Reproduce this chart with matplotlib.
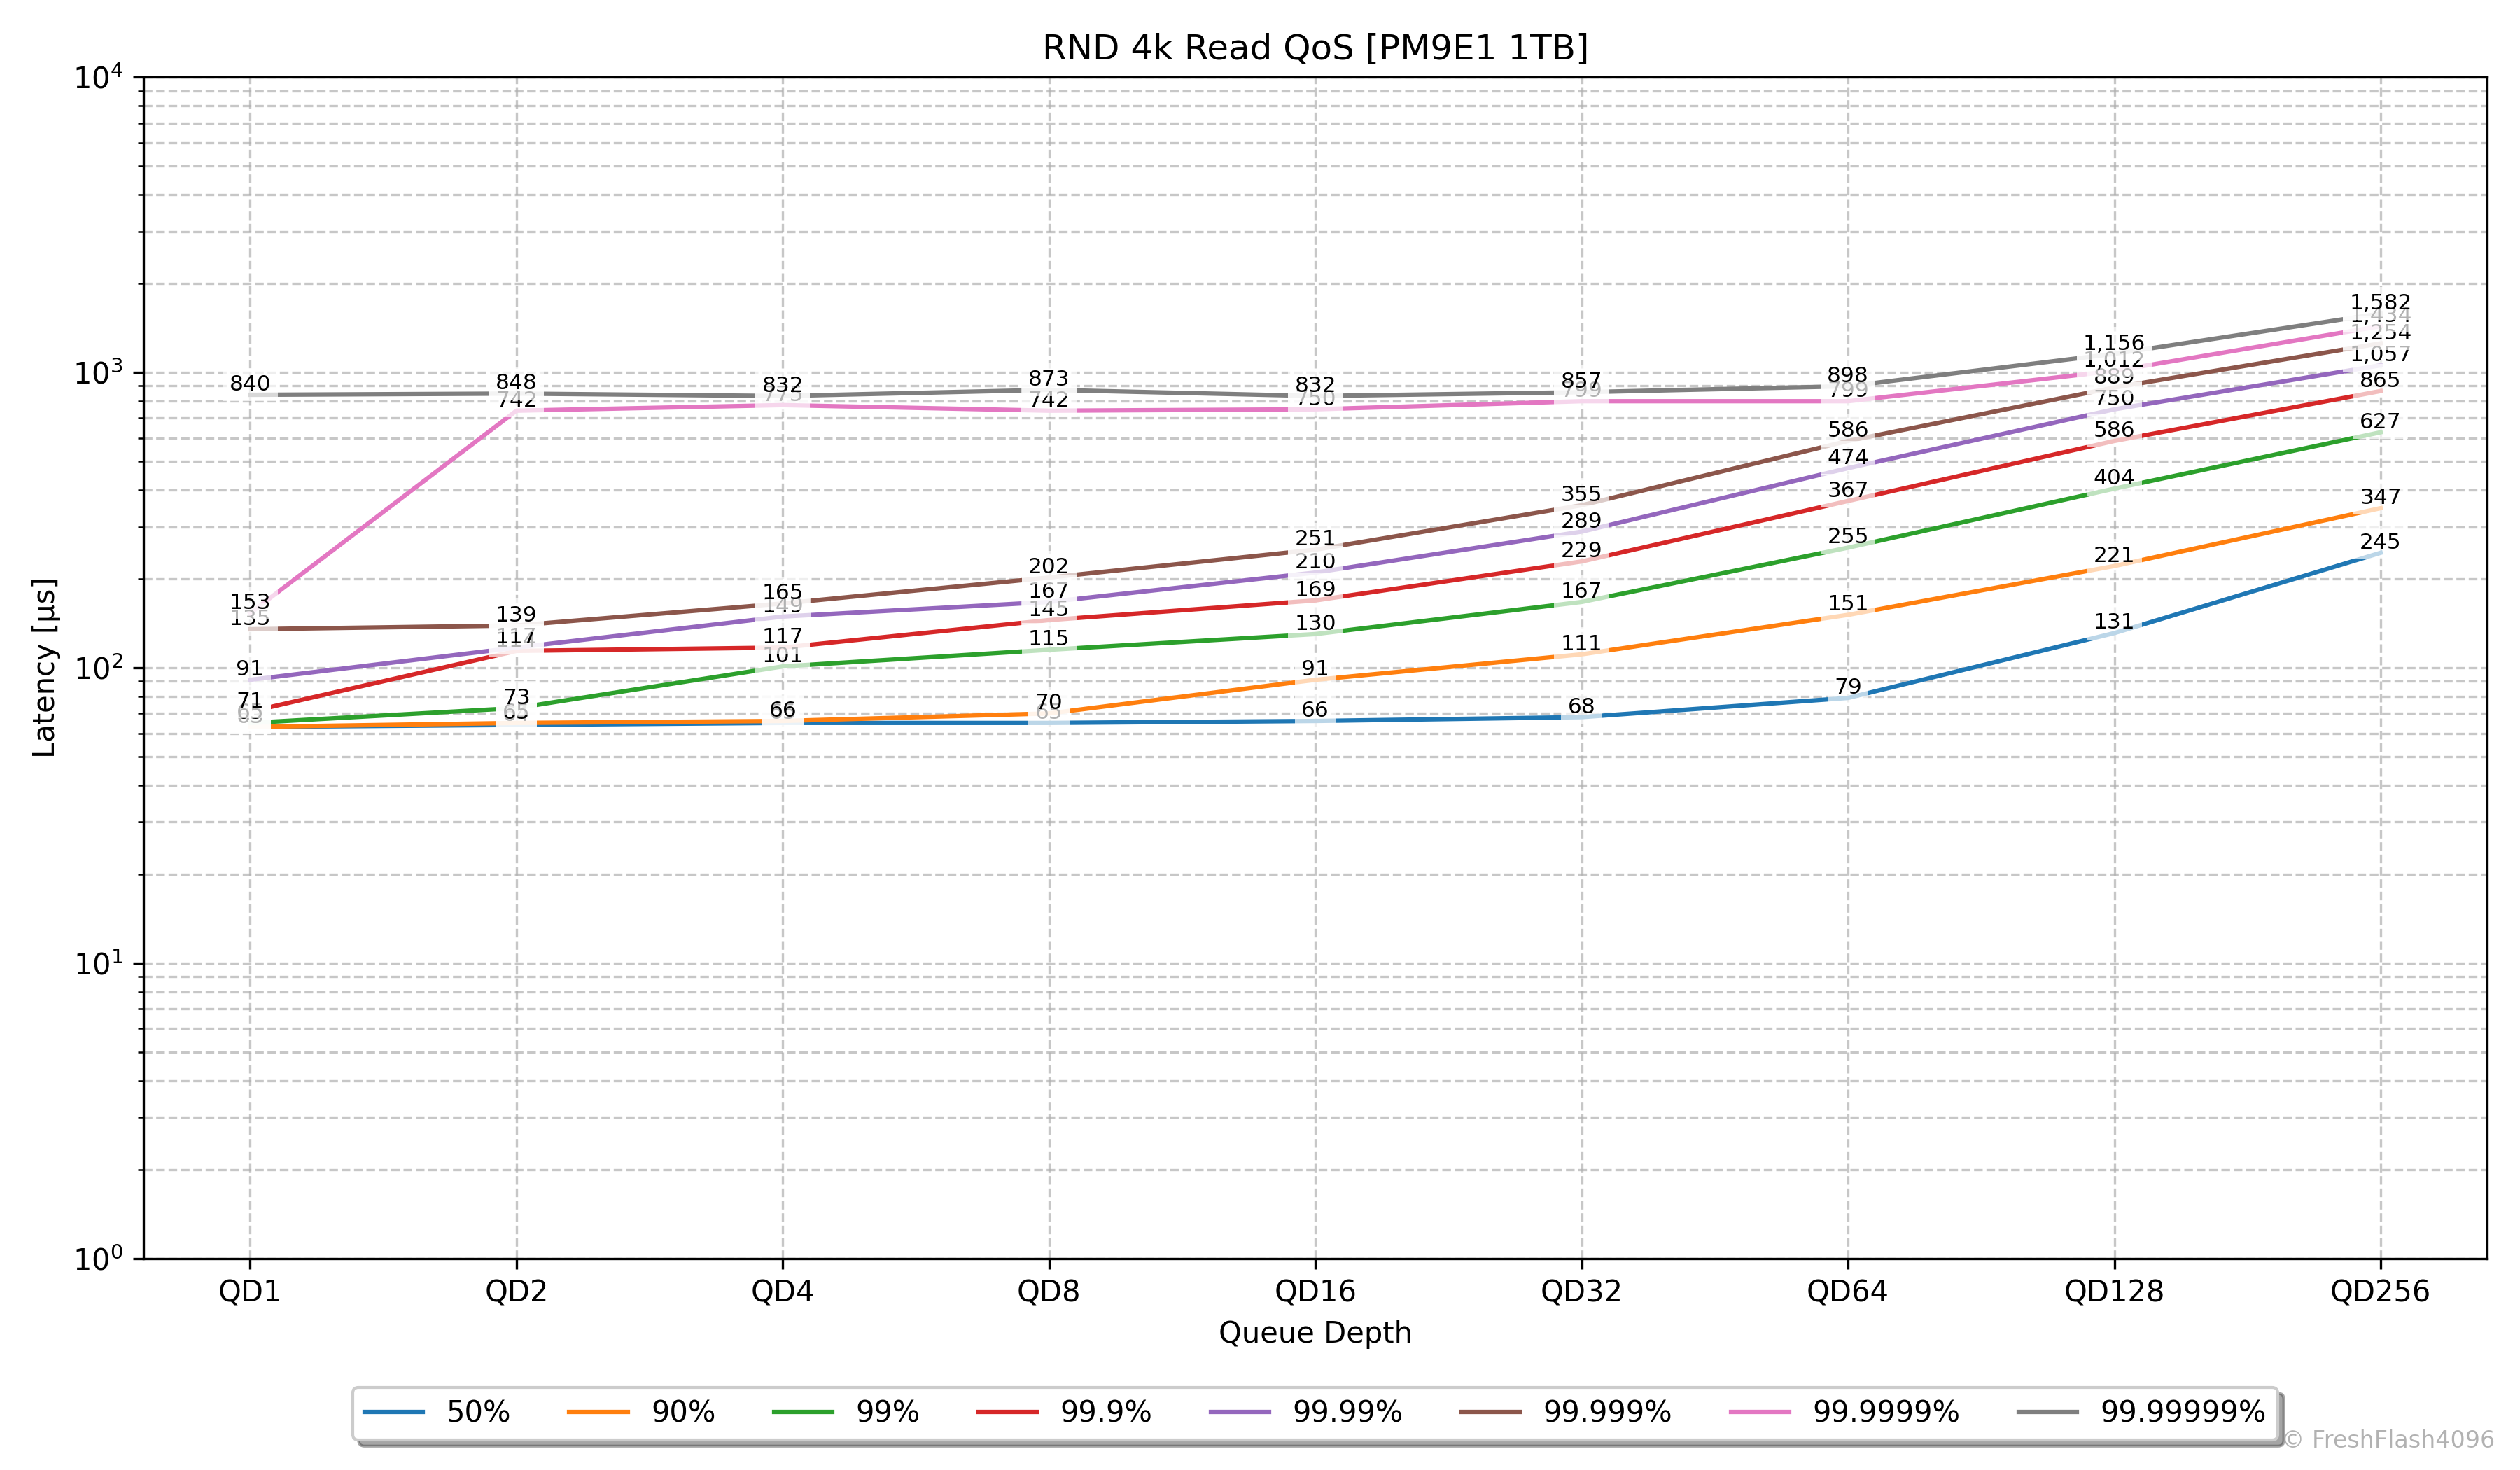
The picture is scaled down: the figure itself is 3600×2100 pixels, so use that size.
import matplotlib
matplotlib.use("Agg")
import matplotlib.pyplot as plt

# Queue depths and latency percentiles (µs)
queue_depths = ["QD1", "QD2", "QD4", "QD8", "QD16", "QD32", "QD64", "QD128", "QD256"]

p50 = [63, 64, 65, 65, 66, 68, 79, 131, 245]
p90 = [63, 65, 66, 70, 91, 111, 151, 221, 347]
p99 = [65, 73, 101, 115, 130, 167, 255, 404, 627]
p999 = [71, 114, 117, 145, 169, 229, 367, 586, 865]
p9999 = [91, 117, 149, 167, 210, 289, 474, 750, 1057]
p99999 = [135, 139, 165, 202, 251, 355, 586, 889, 1254]
p999999 = [153, 742, 775, 742, 750, 799, 799, 1012, 1434]
p9999999 = [840, 848, 832, 873, 832, 857, 898, 1156, 1582]

series_names = ["50%", "90%", "99%", "99.9%", "99.99%", "99.999%", "99.9999%", "99.99999%"]
series_values = [p50, p90, p99, p999, p9999, p99999, p999999, p9999999]

fig, ax = plt.subplots(figsize=(12, 7), dpi=300)
x = list(range(len(queue_depths)))

for name, vals in zip(series_names, series_values):
    ax.plot(x, vals, label=name)
    for xi, v in zip(x, vals):
        ax.annotate(f"{v:,}", (xi, v), textcoords="offset points", xytext=(0, 0),
                    ha="center", va="bottom", fontsize=7.5,
                    bbox=dict(boxstyle="square,pad=0.3", fc="white", ec="none", alpha=0.7))

ax.set_yscale("log")
ax.set_ylim(1, 1e4)
ax.set_xticks(x)
ax.set_xticklabels(queue_depths)
ax.set_xlabel("Queue Depth")
ax.set_ylabel("Latency [µs]")
ax.set_title("RND 4k Read QoS [PM9E1 1TB]")
ax.grid(True, which="both", linestyle="--", alpha=0.7)

ax.legend(loc="upper center", bbox_to_anchor=(0.5, -0.097), ncol=8,
          shadow=True, columnspacing=2.0)

plt.subplots_adjust(left=0.057, right=0.987, top=0.9475, bottom=0.144)
fig.text(0.99, 0.012, "© FreshFlash4096", ha="right", va="bottom",
         fontsize=8, color="gray", alpha=0.6)

plt.savefig("out.png", dpi=300)
